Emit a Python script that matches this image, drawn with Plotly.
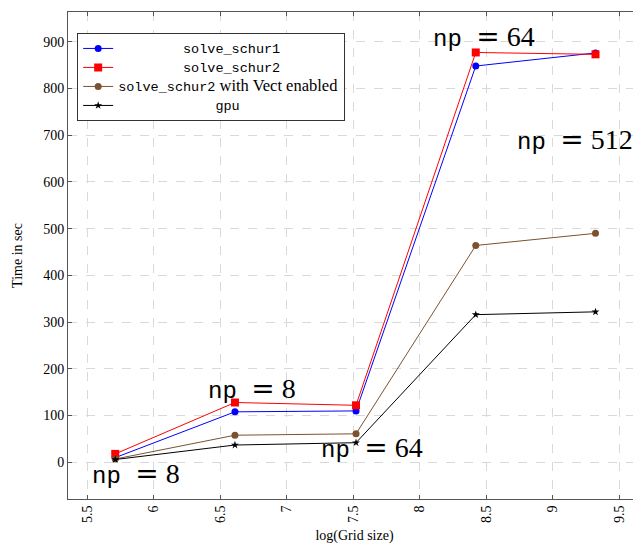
import plotly.graph_objects as go

x_vals = [5.71, 6.61, 7.52, 8.42, 9.32]
schur1 = [10, 108, 110, 848, 876]
schur2 = [18, 128, 122, 877, 873]
schur2_vect = [7, 58, 61, 464, 490]
gpu = [6, 37, 42, 316, 322]

SERIF = "Liberation Serif, Times New Roman, serif"
MONO = "Liberation Mono, Courier New, monospace"
EQ_FONT = "DejaVu Serif, serif"

def span(s, family, size=None):
    st = f"font-family:{family}"
    if size:
        st += f";font-size:{size}px"
    return f'<span style="{st}">{s}</span>'

series_names = [
    span("&nbsp;" * 8 + "solve_schur1", MONO, 13.5),
    span("&nbsp;" * 8 + "solve_schur2", MONO, 13.5),
    span("solve_schur2", MONO, 13.5) + span(" with Vect enabled", SERIF, 16.5),
    span("&nbsp;" * 12 + "gpu", MONO, 13.5),
]
colors = ["#0000ff", "#ff0000", "#7b5230", "#000000"]
symbols = ["circle", "square", "circle", "star"]
sizes = [7, 8, 7, 6]

ann_text = ["np = 8", "np = 8", "np = 64", "np = 64", "np = 512"]
ann_x = [5.866, 6.738, 7.640, 8.481, 9.165]
ann_y = [-22.9, 156.9, 32.7, 912.2, 690.0]

fig = go.Figure()
for name, ys, c, s, sz in zip(series_names, [schur1, schur2, schur2_vect, gpu], colors, symbols, sizes):
    fig.add_trace(go.Scatter(
        x=x_vals, y=ys, name=name, mode="lines+markers",
        line=dict(color=c, width=1),
        marker=dict(color=c, symbol=s, size=sz, line=dict(width=0)),
    ))

for t, ax, ay in zip(ann_text, ann_x, ann_y):
    left, right = t.split(" = ")
    fig.add_annotation(
        x=ax, y=ay, xref="x", yref="y", showarrow=False,
        text=span(left + "&nbsp;", MONO, 24) + span("=", EQ_FONT) + " " + right,
        font=dict(family=SERIF, size=28, color="black"),
    )

axis_common = dict(
    showline=True, linecolor="#555555", linewidth=1, mirror="ticks",
    ticks="inside", ticklen=4, tickcolor="#555555",
    showgrid=True, gridcolor="#d9d9d9", griddash="dash", gridwidth=1,
    zeroline=False, automargin=False,
    tickfont=dict(family=SERIF, size=14, color="black"),
    title_font=dict(family=SERIF, size=14, color="black"),
)

fig.update_xaxes(
    range=[5.355, 9.662], tickvals=[5.5, 6, 6.5, 7, 7.5, 8, 8.5, 9, 9.5],
    ticktext=["5.5", "6", "6.5", "7", "7.5", "8", "8.5", "9", "9.5"],
    tickangle=-90, title_text="log(Grid size)", title_standoff=9, **axis_common,
)
fig.update_yaxes(
    range=[-78.5, 963.6], tickvals=[0, 100, 200, 300, 400, 500, 600, 700, 800, 900],
    title_text="Time in sec", title_standoff=17, **axis_common,
)

# page body has an 8px margin, so the figure is drawn at (8, 8)
fig.update_layout(
    width=633, height=536,
    margin=dict(l=60, r=0, t=4, b=45),
    plot_bgcolor="white", paper_bgcolor="white",
    font=dict(family=SERIF, color="black"),
    legend=dict(
        x=0.016, y=0.957, xanchor="left", yanchor="top",
        bgcolor="white", bordercolor="#333333", borderwidth=1,
        font=dict(family=SERIF, size=12, color="black"),
        tracegroupgap=0, itemwidth=30,
    ),
)

fig.write_html("out.html")
